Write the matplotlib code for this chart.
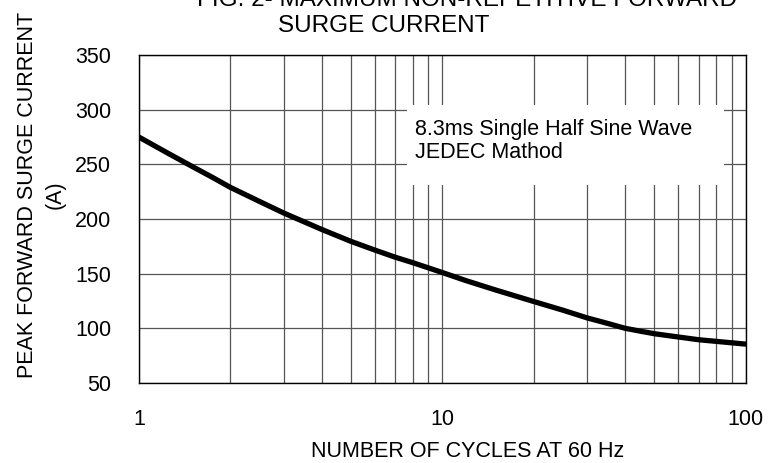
import matplotlib
matplotlib.use("Agg")
import matplotlib.pyplot as plt
from matplotlib.patches import Rectangle
from matplotlib.ticker import FixedLocator, NullFormatter

plt.rcParams['font.family'] = ['Liberation Sans', 'DejaVu Sans']

cycles = [1, 1.25, 1.5, 1.75, 2, 2.5, 3, 4, 5, 6, 7, 8, 10, 12, 15, 20, 25, 30, 35,
          40, 45, 50, 60, 70, 80, 100]
current = [275, 260, 248, 238, 229, 216, 205.5, 190.5, 179.5, 171.5, 165, 160, 151,
           143.5, 135, 124.5, 116.5, 109.5, 104.5, 100, 97.3, 95, 92, 89.5, 88, 85.5]
y_ticks = [50, 100, 150, 200, 250, 300, 350]
x_ticks = [1, 10, 100]
x_minor = [2, 3, 4, 5, 6, 7, 8, 9, 20, 30, 40, 50, 60, 70, 80, 90]

FS = 15.5

fig = plt.figure(figsize=(7.76, 4.63), dpi=100)
ax = fig.add_axes([0.179, 0.173, 0.782, 0.708])

ax.set_xscale('log')
ax.set_xlim(1, 100)
ax.set_ylim(50, 350)
ax.set_yticks(y_ticks)
ax.set_xticks(x_ticks)
ax.set_xticklabels([str(t) for t in x_ticks])
ax.xaxis.set_minor_locator(FixedLocator(x_minor))
ax.xaxis.set_minor_formatter(NullFormatter())

ax.grid(True, which='both', axis='x', color='#555555', lw=0.9)
ax.grid(True, which='major', axis='y', color='#555555', lw=0.9)
ax.tick_params(which='both', length=0, labelsize=FS, pad=20)
ax.tick_params(axis='x', pad=19)
for s in ax.spines.values():
    s.set_linewidth(1.0)
    s.set_color('black')

# white patch behind the note
ax.add_patch(Rectangle((0.4415, 0.604), 0.5235, 0.244, transform=ax.transAxes,
                       facecolor='white', edgecolor='none', zorder=2))
ax.text(0.4547, 0.756, "8.3ms Single Half Sine Wave", transform=ax.transAxes,
        fontsize=FS, va='baseline', ha='left', zorder=3)
ax.text(0.4547, 0.686, "JEDEC Mathod", transform=ax.transAxes,
        fontsize=FS, va='baseline', ha='left', zorder=3)

ax.plot(cycles, current, color='black', lw=3.8, solid_capstyle='round',
        solid_joinstyle='round', zorder=4)

fig.text(0.603, 0.0125, "NUMBER OF CYCLES AT 60 Hz", fontsize=FS,
         ha='center', va='baseline')
fig.text(0.035, 0.579, "PEAK FORWARD SURGE CURRENT", rotation=90, fontsize=FS,
         ha='center', va='center')
fig.text(0.071, 0.579, "(A)", rotation=90, fontsize=FS, ha='center', va='center')

fig.text(0.602, 0.987, "FIG. 2- MAXIMUM NON-REPETITIVE FORWARD", fontsize=17.5,
         ha='center', va='baseline')
fig.text(0.494, 0.931, "SURGE CURRENT", fontsize=17.5, ha='center', va='baseline')

fig.savefig("out.png", dpi=100)
